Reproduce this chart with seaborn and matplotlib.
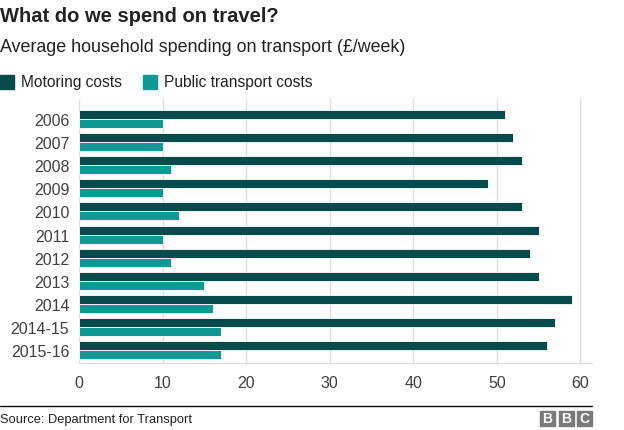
import matplotlib
matplotlib.use("Agg")
import matplotlib.pyplot as plt
import matplotlib.patches as patches
import seaborn as sns
import pandas as pd

# Daten
years = ["2006", "2007", "2008", "2009", "2010", "2011", "2012", "2013", "2014", "2014-15", "2015-16"]
motoring = [51, 52, 53, 49, 53, 55, 54, 55, 59, 57, 56]
public = [10, 10, 11, 10, 12, 10, 11, 15, 16, 17, 17]
series = ["Motoring costs", "Public transport costs"]
colours = ["#064b4c", "#0e9994"]

df = pd.DataFrame({
    "year": years * 2,
    "value": motoring + public,
    "kind": [series[0]] * len(years) + [series[1]] * len(years),
})

sns.set_style("white")
plt.rcParams["font.family"] = ["Liberation Sans", "DejaVu Sans"]

W, H = 624, 431
fig = plt.figure(figsize=(W / 100, H / 100), dpi=100)
ax = fig.add_axes([79 / W, 1 - 363.7 / H, 513 / W, 263.7 / H])

sns.barplot(data=df, y="year", x="value", hue="kind", hue_order=series,
            order=years, palette=colours, saturation=1, orient="h", width=0.78,
            edgecolor="white", linewidth=0.6, ax=ax, legend=False, zorder=3)

ax.set_xlim(0, 61.4)
ax.set_ylim(10.55, -0.87)
ax.set_xticks([0, 10, 20, 30, 40, 50, 60])
ax.grid(axis="x", color="#dcdcdc", linewidth=1, zorder=0)
ax.set_xlabel("")
ax.set_ylabel("")
for s in ["top", "right", "left"]:
    ax.spines[s].set_visible(False)
ax.spines["bottom"].set_color("#dcdcdc")
ax.tick_params(axis="both", length=0, labelsize=11.5, labelcolor="#404040")
ax.tick_params(axis="y", pad=7)
ax.tick_params(axis="x", pad=9)

# Titel und Untertitel
fig.text(0 / W, 1 - 17 / H, "What do we spend on travel?", fontsize=14.5, fontweight="bold",
         color="#222222", va="center", ha="left")
fig.text(0 / W, 1 - 47 / H, "Average household spending on transport (£/week)", fontsize=12.9,
         color="#222222", va="center", ha="left")

# Legende von Hand
for (x0, tx), lab, c in zip([(0, 21), (143, 164)], series, colours):
    fig.patches.append(patches.Rectangle((x0 / W, 1 - 90 / H), 14 / W, 14 / H,
                                         transform=fig.transFigure, color=c))
    fig.text(tx / W, 1 - 82.5 / H, lab, fontsize=11.2, color="#222222", va="center", ha="left")

# Linie unten, Quelle, BBC-Logo
fig.add_artist(plt.Line2D([0, 592 / W], [1 - 407 / H, 1 - 407 / H], transform=fig.transFigure,
                          color="#111111", linewidth=1))
fig.text(0, 1 - 420 / H, "Source: Department for Transport", fontsize=9.3, color="#222222",
         va="center", ha="left")
for i, letter in enumerate("BBC"):
    x0 = 540 + i * 18.5
    fig.patches.append(patches.Rectangle((x0 / W, 1 - 427 / H), 15 / W, 15 / H,
                                         transform=fig.transFigure, color="#7a7a7a"))
    fig.text((x0 + 7.5) / W, 1 - 419.5 / H, letter, fontsize=10, fontweight="bold",
             color="white", va="center", ha="center")

fig.savefig("out.png", dpi=100)
